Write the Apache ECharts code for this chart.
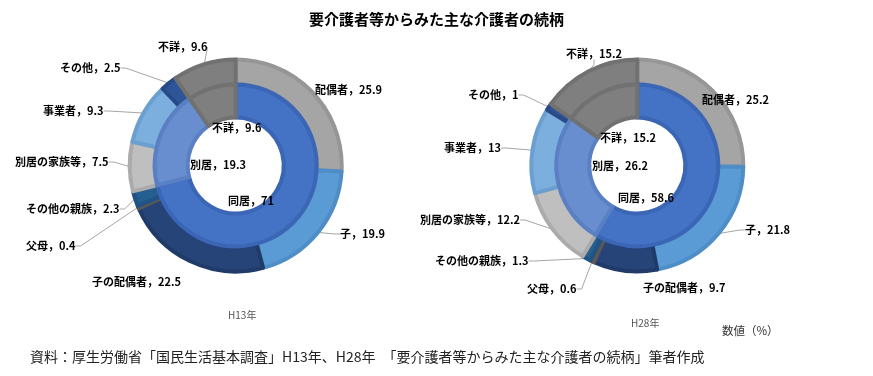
<!DOCTYPE html>
<html>
<head>
<meta charset="utf-8">
<script src="https://cdn.jsdelivr.net/npm/echarts@6/dist/echarts.min.js"></script>
<style>
  html, body { margin: 0; padding: 0; background: #fff; }
  #main { width: 873px; height: 376px; }
</style>
</head>
<body>
<div id="main"></div>
<script>
// data
const outerNames = ['配偶者', '子', '子の配偶者', '父母', 'その他の親族', '別居の家族等', '事業者', 'その他', '不詳'];
const outerH13 = [25.9, 19.9, 22.5, 0.4, 2.3, 7.5, 9.3, 2.5, 9.6];
const outerH28 = [25.2, 21.8, 9.7, 0.6, 1.3, 12.2, 13, 1, 15.2];
const innerNames = ['同居', '別居', '不詳'];
const innerH13 = [71, 19.3, 9.6];
const innerH28 = [58.6, 26.2, 15.2];

// colors [fill, border]
const outerColors = [
  ['#A5A5A5', '#969696'], ['#5B9BD5', '#4F8DC7'], ['#264478', '#203B69'],
  ['#636363', '#585858'], ['#255E91', '#205283'], ['#BFBFBF', '#ABABAB'],
  ['#7CAFDD', '#6A9FD0'], ['#2E5597', '#284B88'], ['#7F7F7F', '#717171']
];
const innerColors = [['#4472C4', '#3A66B5'], ['#698ED0', '#5A80C4'], ['#7F7F7F', '#717171']];

// label placement (left edge, middle) for each slice
const outerLabelH13 = [[315, 90], [340, 234], [92, 282], [26, 246], [26, 209], [15, 162], [43, 111], [60, 68], [158, 47]];
const outerLabelH28 = [[702, 100], [745, 230], [643, 288], [527, 289], [435, 261], [420, 220], [444, 148], [468, 95], [566, 54]];
const innerLabelH13 = [[228, 201], [190, 165], [212, 128]];
const innerLabelH28 = [[618, 198], [592, 166], [600, 138]];
const outerNoLine = [true, false, true, false, false, false, false, false, false];
const innerNoLine = [true, false, true];

const chart = echarts.init(document.getElementById('main'));

const font = '"Noto Sans CJK JP", sans-serif';

function items(names, vals, colors, noLine) {
  return names.map(function (n, i) {
    return {
      name: n,
      value: vals[i],
      itemStyle: { color: colors[i][0], borderColor: colors[i][1] },
      labelLine: { show: !noLine[i] }
    };
  });
}

function ring(center, radius, names, vals, colors, noLine, labelPos) {
  return {
    type: 'pie',
    center: center,
    radius: radius,
    startAngle: 90,
    clockwise: true,
    avoidLabelOverlap: false,
    animation: false,
    itemStyle: { borderWidth: 4 },
    label: {
      show: true,
      formatter: '{b}，{c}',
      color: '#000',
      fontFamily: font,
      fontWeight: 'bold',
      fontSize: 11
    },
    labelLine: { show: true, length: 5, length2: 5, lineStyle: { color: '#A6A6A6', width: 1 } },
    emphasis: { disabled: true },
    labelLayout: function (p) {
      const q = labelPos[p.dataIndex];
      return { x: q[0], y: q[1], align: 'left', verticalAlign: 'middle' };
    },
    data: items(names, vals, colors, noLine)
  };
}

const outerR = [81, 106];
const innerR = [48, 81];

chart.setOption({
  backgroundColor: '#fff',
  title: [
    { text: '要介護者等からみた主な介護者の続柄', left: 'center', top: 7,
      textStyle: { fontFamily: font, fontSize: 15, fontWeight: 'bold', color: '#000' } },
    { text: 'H13年', left: 223, top: 305, textStyle: { fontFamily: font, fontSize: 10, fontWeight: 'normal', color: '#555' } },
    { text: 'H28年', left: 626, top: 313, textStyle: { fontFamily: font, fontSize: 10, fontWeight: 'normal', color: '#555' } },
    { text: '数値（%）', left: 717, top: 320, textStyle: { fontFamily: font, fontSize: 11.5, fontWeight: 'normal', color: '#333' } },
    { text: '資料：厚生労働省「国民生活基本調査」H13年、H28年　「要介護者等からみた主な介護者の続柄」筆者作成', left: 25, top: 345,
      textStyle: { fontFamily: font, fontSize: 14, fontWeight: 'normal', color: '#222' } }
  ],
  series: [
    ring(['27%', '44%'], outerR, outerNames, outerH13, outerColors, outerNoLine, outerLabelH13),
    ring(['27%', '44%'], innerR, innerNames, innerH13, innerColors, innerNoLine, innerLabelH13),
    ring(['73%', '44%'], outerR, outerNames, outerH28, outerColors, outerNoLine, outerLabelH28),
    ring(['73%', '44%'], innerR, innerNames, innerH28, innerColors, innerNoLine, innerLabelH28)
  ]
});
</script>
</body>
</html>
